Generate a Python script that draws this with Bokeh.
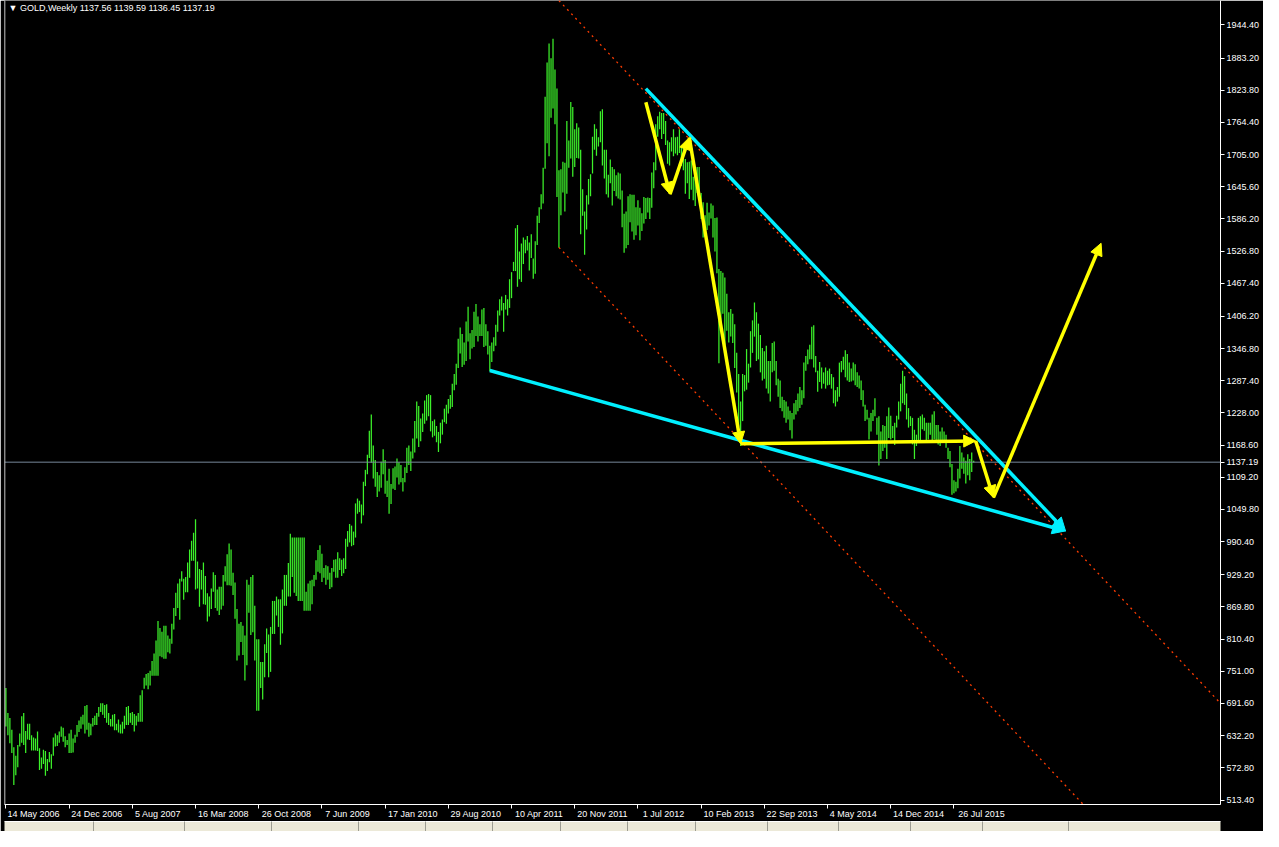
from bokeh.plotting import figure
from bokeh.models import (FixedTicker, Range1d, Span, Label, Arrow, NormalHead,
                          ColumnDataSource, PrintfTickFormatter, LinearAxis)
from bokeh.embed import file_html
from bokeh.resources import INLINE

# ---------------- data (weekly GOLD bars, 14 May 2006 -> 4 Oct 2015) ----------------
HIGH = [
    720, 674, 665, 643, 611, 595, 615, 636, 668, 674, 641, 654, 654, 633, 629, 627, 640, 609, 592, 606,
    604, 589, 602, 598, 629, 636, 633, 640, 649, 647, 631, 624, 636, 643, 627, 634, 652, 660, 667, 671,
    687, 689, 656, 654, 665, 669, 674, 685, 692, 692, 689, 690, 674, 663, 671, 672, 654, 662, 653, 658,
    669, 685, 687, 674, 676, 672, 669, 674, 707, 716, 739, 746, 748, 752, 770, 784, 808, 844, 831, 824,
    835, 835, 817, 811, 839, 868, 896, 913, 922, 936, 922, 925, 952, 976, 992, 1007, 1032, 954, 940, 938,
    952, 927, 895, 889, 904, 934, 929, 902, 907, 907, 929, 945, 967, 987, 976, 933, 915, 866, 839, 842,
    835, 817, 920, 911, 925, 929, 872, 810, 810, 768, 768, 801, 830, 819, 833, 881, 881, 889, 884, 884,
    902, 929, 929, 951, 1005, 998, 998, 998, 998, 998, 998, 998, 898, 913, 918, 920, 929, 956, 975, 984,
    968, 942, 947, 945, 933, 942, 957, 958, 971, 960, 957, 960, 996, 1010, 1023, 1020, 1009, 1061, 1070, 1066,
    1059, 1101, 1123, 1151, 1195, 1225, 1168, 1141, 1119, 1113, 1138, 1161, 1141, 1103, 1125, 1097, 1126, 1129, 1144, 1137,
    1132, 1108, 1128, 1164, 1168, 1157, 1181, 1213, 1249, 1241, 1218, 1227, 1251, 1261, 1263, 1261, 1213, 1216, 1204, 1193,
    1210, 1216, 1236, 1243, 1254, 1261, 1282, 1300, 1319, 1365, 1386, 1374, 1358, 1397, 1424, 1375, 1381, 1415, 1429, 1406,
    1392, 1419, 1422, 1392, 1379, 1352, 1358, 1368, 1391, 1417, 1438, 1443, 1431, 1446, 1438, 1475, 1488, 1507, 1569, 1575,
    1526, 1541, 1552, 1548, 1555, 1543, 1558, 1513, 1545, 1592, 1608, 1632, 1681, 1812, 1875, 1910, 1883, 1919, 1862, 1827,
    1676, 1678, 1692, 1690, 1767, 1731, 1802, 1793, 1752, 1763, 1755, 1714, 1641, 1600, 1630, 1660, 1669, 1738, 1761, 1753,
    1737, 1785, 1789, 1714, 1714, 1668, 1696, 1682, 1678, 1667, 1672, 1670, 1639, 1596, 1600, 1628, 1632, 1631, 1631, 1608,
    1621, 1607, 1597, 1627, 1625, 1626, 1625, 1672, 1691, 1761, 1776, 1784, 1782, 1782, 1767, 1731, 1728, 1737, 1752, 1737,
    1738, 1752, 1722, 1720, 1697, 1691, 1692, 1694, 1664, 1670, 1682, 1682, 1634, 1617, 1593, 1616, 1598, 1615, 1611, 1588,
    1589, 1494, 1490, 1487, 1478, 1448, 1414, 1420, 1411, 1392, 1339, 1300, 1249, 1300, 1298, 1346, 1319, 1379, 1399, 1432,
    1414, 1393, 1372, 1348, 1342, 1352, 1324, 1324, 1357, 1360, 1324, 1291, 1288, 1258, 1252, 1249, 1240, 1232, 1228, 1246,
    1252, 1264, 1276, 1270, 1321, 1333, 1345, 1354, 1387, 1390, 1333, 1306, 1322, 1312, 1303, 1312, 1306, 1310, 1300, 1294,
    1270, 1276, 1321, 1324, 1332, 1344, 1337, 1321, 1310, 1321, 1318, 1303, 1297, 1288, 1270, 1243, 1234, 1219, 1228, 1234,
    1255, 1219, 1222, 1194, 1206, 1204, 1222, 1238, 1223, 1204, 1210, 1223, 1249, 1282, 1306, 1296, 1264, 1237, 1222, 1219,
    1197, 1188, 1219, 1222, 1225, 1219, 1210, 1210, 1210, 1225, 1231, 1206, 1206, 1194, 1201, 1194, 1188, 1164, 1158, 1134,
    1104, 1101, 1125, 1167, 1155, 1146, 1140, 1152, 1143, 1155, 1139.59,
]
LOW = [
    649, 633, 618, 600, 541, 559, 574, 612, 619, 615, 600, 625, 624, 605, 605, 605, 604, 569, 571, 580,
    558, 567, 583, 571, 595, 612, 613, 619, 630, 621, 611, 615, 600, 600, 601, 619, 630, 639, 645, 653,
    636, 643, 630, 633, 649, 652, 652, 667, 676, 671, 665, 656, 652, 649, 649, 642, 642, 638, 636, 636,
    645, 652, 652, 656, 652, 640, 651, 658, 658, 658, 719, 725, 718, 725, 743, 743, 743, 743, 779, 777,
    774, 774, 786, 784, 802, 828, 853, 868, 846, 917, 883, 897, 897, 924, 955, 955, 902, 904, 870, 902,
    875, 874, 843, 852, 866, 898, 868, 863, 855, 865, 872, 917, 910, 910, 909, 892, 848, 771, 780, 805,
    781, 734, 762, 859, 818, 823, 771, 678, 678, 720, 699, 740, 785, 740, 750, 820, 820, 854, 833, 800,
    821, 872, 872, 889, 889, 925, 896, 890, 881, 881, 881, 863, 863, 863, 863, 875, 908, 920, 935, 932,
    916, 924, 911, 920, 903, 906, 935, 924, 924, 938, 927, 932, 940, 981, 989, 982, 984, 998, 1042, 1045,
    1024, 1039, 1093, 1115, 1145, 1136, 1107, 1092, 1073, 1083, 1090, 1115, 1079, 1073, 1042, 1060, 1088, 1086, 1109, 1096,
    1100, 1083, 1100, 1117, 1132, 1121, 1144, 1155, 1181, 1165, 1176, 1193, 1208, 1214, 1222, 1194, 1183, 1186, 1174, 1156,
    1172, 1188, 1211, 1208, 1227, 1236, 1239, 1270, 1280, 1311, 1338, 1313, 1317, 1324, 1360, 1327, 1347, 1350, 1370, 1360,
    1370, 1370, 1350, 1352, 1336, 1305, 1322, 1342, 1352, 1378, 1408, 1417, 1378, 1419, 1408, 1422, 1440, 1490, 1490, 1461,
    1475, 1470, 1503, 1523, 1528, 1491, 1514, 1476, 1485, 1538, 1579, 1604, 1615, 1679, 1726, 1702, 1773, 1790, 1761, 1627,
    1533, 1593, 1635, 1600, 1633, 1681, 1698, 1664, 1682, 1699, 1698, 1558, 1592, 1520, 1567, 1613, 1628, 1670, 1714, 1703,
    1720, 1728, 1685, 1661, 1632, 1626, 1652, 1611, 1638, 1628, 1624, 1622, 1571, 1524, 1532, 1538, 1580, 1563, 1548, 1556,
    1574, 1547, 1564, 1578, 1586, 1598, 1586, 1607, 1643, 1676, 1738, 1752, 1734, 1743, 1723, 1688, 1685, 1711, 1702, 1707,
    1704, 1708, 1684, 1676, 1633, 1652, 1623, 1640, 1621, 1610, 1634, 1637, 1586, 1552, 1555, 1566, 1574, 1587, 1552, 1526,
    1486, 1320, 1380, 1411, 1352, 1380, 1358, 1369, 1357, 1311, 1266, 1201, 1167, 1213, 1268, 1271, 1284, 1312, 1339, 1369,
    1324, 1327, 1303, 1288, 1291, 1273, 1264, 1249, 1303, 1306, 1279, 1258, 1237, 1231, 1219, 1210, 1216, 1196, 1181, 1216,
    1225, 1231, 1237, 1243, 1255, 1306, 1318, 1327, 1327, 1312, 1303, 1267, 1285, 1273, 1282, 1273, 1279, 1280, 1273, 1246,
    1240, 1249, 1258, 1303, 1308, 1294, 1288, 1285, 1286, 1288, 1279, 1276, 1273, 1252, 1240, 1213, 1216, 1179, 1194, 1213,
    1222, 1188, 1131, 1143, 1158, 1164, 1143, 1182, 1179, 1182, 1169, 1201, 1216, 1231, 1246, 1243, 1216, 1201, 1204, 1170,
    1143, 1167, 1176, 1173, 1198, 1195, 1173, 1179, 1188, 1173, 1179, 1173, 1170, 1167, 1173, 1176, 1164, 1143, 1128, 1077,
    1080, 1083, 1089, 1107, 1125, 1116, 1098, 1113, 1104, 1119, 1136.45,
]
LAST_OHLC = [1137.56, 1139.59, 1136.45, 1137.19]
SYMBOL = "GOLD,Weekly"

Y_TICKS = [513.40, 572.80, 632.20, 691.60, 751.00, 810.40, 869.80, 929.20, 990.40,
           1049.80, 1109.20, 1168.60, 1228.00, 1287.40, 1346.80, 1406.20, 1467.40,
           1526.80, 1586.20, 1645.60, 1705.00, 1764.40, 1823.80, 1883.20, 1944.40]
DATE_BARS = [0, 32, 64, 96, 128, 160, 192, 224, 256, 288, 320, 352, 384, 416, 448, 480]
DATE_LABELS = ["14 May 2006", "24 Dec 2006", "5 Aug 2007", "16 Mar 2008", "26 Oct 2008",
               "7 Jun 2009", "17 Jan 2010", "29 Aug 2010", "10 Apr 2011", "20 Nov 2011",
               "1 Jul 2012", "10 Feb 2013", "22 Sep 2013", "4 May 2014", "14 Dec 2014",
               "26 Jul 2015"]

# drawn objects (bar index, price)
YELLOW_X = [324, 336.25, 346, 372, 491, 500, 554.5]
YELLOW_Y = [1801.6, 1631.8, 1736.6, 1171.0, 1176.4, 1071.6, 1541.4]
CYAN_START_X = [324, 245]
CYAN_START_Y = [1826.9, 1306.5]
CYAN_END_X = [536.5, 536.5]
CYAN_END_Y = [1010.2, 1010.2]
CHANNEL_X = [280, 616]
CHANNEL_UPPER = [1989.6, 687.9]
CHANNEL_LOWER = [1533.7, 231.9]

# ---------------- layout constants ----------------
GREEN = "#3cf02a"
CYAN = "#00f0ff"
YELLOW = "#ffff00"
RED = "#ff3c00"
FONT = "Liberation Sans"
W, H = 1263, 831
X_LO, X_HI = -0.72, 614.96
Y_LO, Y_HI = 505.1, 1989.6
TAB_EDGES_PX = [3, 94, 186, 274, 363, 430, 498, 567, 635, 704, 777, 849, 921, 994, 1082]

p = figure(width=W, height=H, output_backend="svg", toolbar_location=None,
           x_range=Range1d(X_LO, X_HI), y_range=Range1d(Y_LO, Y_HI),
           y_axis_location="right", min_border_left=4, min_border_top=0,
           min_border_right=43, min_border_bottom=25)
p.background_fill_color = "black"
p.border_fill_color = "black"
p.outline_line_color = None
p.grid.visible = False

idx = list(range(len(HIGH)))
src = ColumnDataSource(dict(i=idx, high=HIGH, low=LOW))
p.segment(x0="i", y0="low", x1="i", y1="high", source=src, line_color=GREEN, line_width=1.25)

# channel (dotted red)
p.line(CHANNEL_X, CHANNEL_UPPER, line_color=RED, line_width=1.3, line_dash="2 4")
p.line(CHANNEL_X, CHANNEL_LOWER, line_color=RED, line_width=1.3, line_dash="2 4")

# bid line
p.add_layout(Span(location=LAST_OHLC[3], dimension="width", line_color="#778899", line_width=1))
# left border of the chart window
p.add_layout(Span(location=-0.6, dimension="height", line_color="white", line_width=1))

# cyan arrows
for k in range(len(CYAN_START_X)):
    p.add_layout(Arrow(end=NormalHead(size=13, fill_color=CYAN, line_color=CYAN),
                       x_start=CYAN_START_X[k], y_start=CYAN_START_Y[k],
                       x_end=CYAN_END_X[k], y_end=CYAN_END_Y[k],
                       line_color=CYAN, line_width=3.5))
# yellow arrows
for k in range(len(YELLOW_X) - 1):
    p.add_layout(Arrow(end=NormalHead(size=12, fill_color=YELLOW, line_color=YELLOW),
                       x_start=YELLOW_X[k], y_start=YELLOW_Y[k],
                       x_end=YELLOW_X[k + 1], y_end=YELLOW_Y[k + 1],
                       line_color=YELLOW, line_width=3.5))

# y axis (price scale) incl. the bid price
ya = p.yaxis[0]
ya.ticker = FixedTicker(ticks=Y_TICKS + [LAST_OHLC[3]])
ya.formatter = PrintfTickFormatter(format="%.2f")
ya.axis_line_color = "white"
ya.major_tick_line_color = "white"
ya.major_tick_out = 4
ya.major_tick_in = 0
ya.minor_tick_line_color = None
ya.major_label_standoff = 2
ya.major_label_text_color = "white"
ya.major_label_text_font = FONT
ya.major_label_text_font_size = "9px"

# x axis: labels sit right of the tick marks
def label_center(bar, text):
    return bar + int(round((2 + 0.5 * len(text) * 4.75) / 1.975))

centers = [label_center(b, t) for b, t in zip(DATE_BARS, DATE_LABELS)]
xa = p.xaxis[0]
xa.ticker = FixedTicker(ticks=centers, minor_ticks=DATE_BARS)
xa.major_label_overrides = {c: t for c, t in zip(centers, DATE_LABELS)}
xa.axis_line_color = "white"
xa.major_tick_line_color = None
xa.major_tick_out = 0
xa.major_tick_in = 0
xa.minor_tick_line_color = "white"
xa.minor_tick_out = 4
xa.minor_tick_in = 0
xa.major_label_standoff = 0
xa.major_label_text_color = "white"
xa.major_label_text_font = FONT
xa.major_label_text_font_size = "9px"

# terminal tab strip under the chart
tab_edges = [(x - 5.5) / 2.0 for x in TAB_EDGES_PX]
tabs = LinearAxis(ticker=FixedTicker(ticks=[], minor_ticks=tab_edges),
                  axis_line_color="#ffffff",
                  minor_tick_line_color="#9d9d92", minor_tick_out=10, minor_tick_in=0,
                  major_tick_line_color=None, major_tick_out=0,
                  major_label_text_font_size="1px")
if hasattr(tabs, "background_fill_color"):
    tabs.background_fill_color = "#ece9d8"
p.add_layout(tabs, "below")

# header (anchored at the top edge of the chart)
header = "\u25BC " + SYMBOL + "  " + " ".join("%.2f" % v for v in LAST_OHLC)
p.add_layout(Label(x=X_LO, y=Y_HI, x_offset=4, y_offset=-2, text=header,
                   text_color="white", text_font=FONT, text_font_size="9px",
                   text_baseline="top", text_align="left"))

open("out.html", "w").write(file_html(p, INLINE))
